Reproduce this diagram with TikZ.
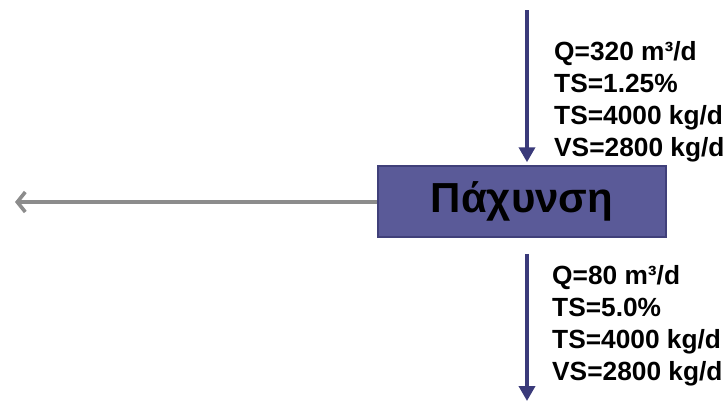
\documentclass[tikz,border=0pt]{standalone}
\usepackage{fontspec}
\setmainfont{Liberation Sans}
\usetikzlibrary{arrows.meta,calc}
\definecolor{boxfill}{RGB}{90,90,152}
\definecolor{boxedge}{RGB}{64,64,122}
\definecolor{flowblue}{RGB}{58,58,122}
\definecolor{flowgrey}{RGB}{140,140,140}
\tikzset{
  unitbox/.style={draw=boxedge, line width=1.5pt, fill=boxfill,
    minimum width=288pt, minimum height=71pt, inner sep=0pt,
    font=\fontsize{42}{48}\selectfont\bfseries},
  flowdown/.style={draw=flowblue, line width=3.6pt,
    -{Triangle[length=15pt,width=16pt]}},
  flowside/.style={draw=flowgrey, line width=3.6pt,
    -{Straight Barb[length=8pt,width=20pt,line width=3.6pt]}},
  streamtext/.style={anchor=north west, inner sep=0pt, align=left,
    font=\fontsize{26.3}{32}\selectfont\bfseries}
}
\begin{document}
\begin{tikzpicture}[x=1pt,y=-1pt]
  \useasboundingbox (0,0) rectangle (726,402);
  % thickener unit
  \node[unitbox] (thick) at (522,201.5) {Πάχυνση};
  % feed sludge entering from above
  \coordinate (feed) at (527,10);
  \draw[flowdown] (feed) -- ($(feed |- thick.north)+(0,-3)$);
  \node[streamtext] (feedtxt) at (554,41.5)
    {Q=320 m³/d\\TS=1.25\%\\TS=4000 kg/d\\VS=2800 kg/d};
  % thickened sludge leaving below
  \coordinate (under) at (527,401);
  \draw[flowdown] ($(under |- thick.south)+(0,16)$) -- (under);
  \node[streamtext] (undertxt) at (552,265.5)
    {Q=80 m³/d\\TS=5.0\%\\TS=4000 kg/d\\VS=2800 kg/d};
  % supernatant returned to the left
  \coordinate (super) at (15,202);
  \draw[flowside] (thick.west |- super) -- (super);
\end{tikzpicture}
\end{document}
